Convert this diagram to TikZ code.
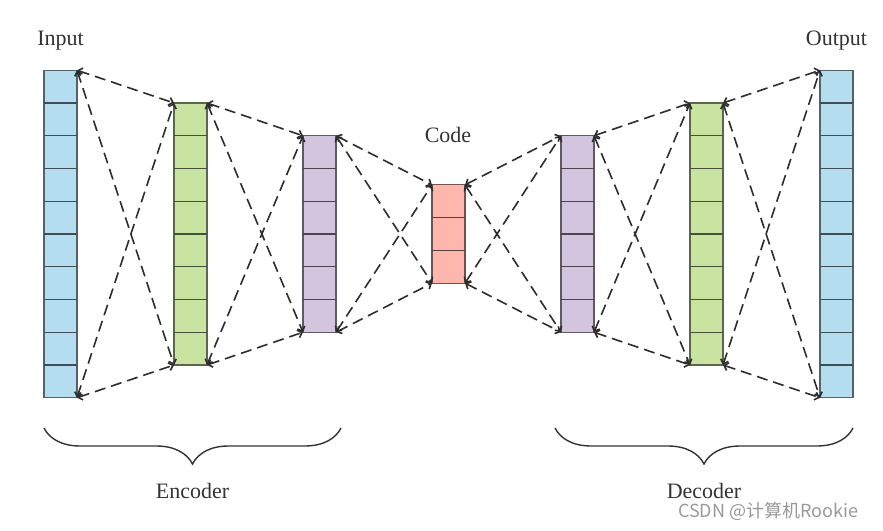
\documentclass[tikz,border=0pt]{standalone}
\usepackage{fontspec}
\setmainfont{Liberation Serif}
\newfontfamily\cjk{Noto Sans CJK SC}
\usetikzlibrary{arrows.meta,decorations.pathreplacing,positioning,calc}
\definecolor{inblue}{RGB}{180,222,240}
\definecolor{encgreen}{RGB}{200,228,160}
\definecolor{midpurple}{RGB}{212,197,222}
\definecolor{codered}{RGB}{255,182,172}
\definecolor{linkgray}{RGB}{45,45,45}

\begin{document}
\begin{tikzpicture}[x=1pt,y=-1pt,
  layer/.style={fill=#1, draw=#1!45!black, line width=1.2pt, minimum width=33pt, inner sep=0pt, outer sep=0pt},
  link/.style={linkgray, line width=1.6pt, dash pattern=on 11pt off 6pt,
    {Straight Barb[length=4pt,width=8pt]}-{Straight Barb[length=4pt,width=8pt]}},
  lbl/.style={anchor=base, font=\fontsize{22}{26}\selectfont, text=black!80},
  brace/.style={decorate, decoration={brace, mirror, amplitude=36pt}, line width=1.4pt, black!80}]
\useasboundingbox (0,0) rectangle (883,530);
% layers of the network, one cell per unit
\foreach \name/\x/\n/\col in {input/60.5/10/inblue, enc1/190.5/8/encgreen, enc2/319.5/6/midpurple,
    code/448.5/3/codered, dec1/577.5/6/midpurple, dec2/706.5/8/encgreen, output/836.5/10/inblue} {
  \node[layer=\col, minimum height=\n*32.75pt] (\name) at (\x,234) {};
  \pgfmathtruncatemacro\m{\n-1}
  \foreach \k in {1,...,\m}
    \draw[\col!35!black, line width=1.4pt] ($(\name.north west)!\k/\n!(\name.south west)$)
      -- ($(\name.north east)!\k/\n!(\name.south east)$);
}
% dashed links between corners
\foreach \a/\b in {input/enc1, enc1/enc2, enc2/code, code/dec1, dec1/dec2, dec2/output} {
  \draw[link] (\a.north east) -- (\b.north west);
  \draw[link] (\a.north east) -- (\b.south west);
  \draw[link] (\a.south east) -- (\b.north west);
  \draw[link] (\a.south east) -- (\b.south west);
}
% labels
\node[lbl] (inlbl) at (60.5,45) {Input};
\node[lbl] (outlbl) at (836.5,45) {Output};
\node[lbl] (codelbl) at (448,142) {Code};
% braces
\draw[brace] (44,428) -- (341,428);
\draw[brace] (555,428) -- (853,428);
\node[lbl] (enclbl) at (192.5,498) {Encoder};
\node[lbl] (declbl) at (704,498) {Decoder};
\node[anchor=base west, text=black!40, inner sep=0pt] (mark) at (678,517)
  {\cjk\fontsize{18}{20}\selectfont CSDN @计算机Rookie};
\end{tikzpicture}
\end{document}
